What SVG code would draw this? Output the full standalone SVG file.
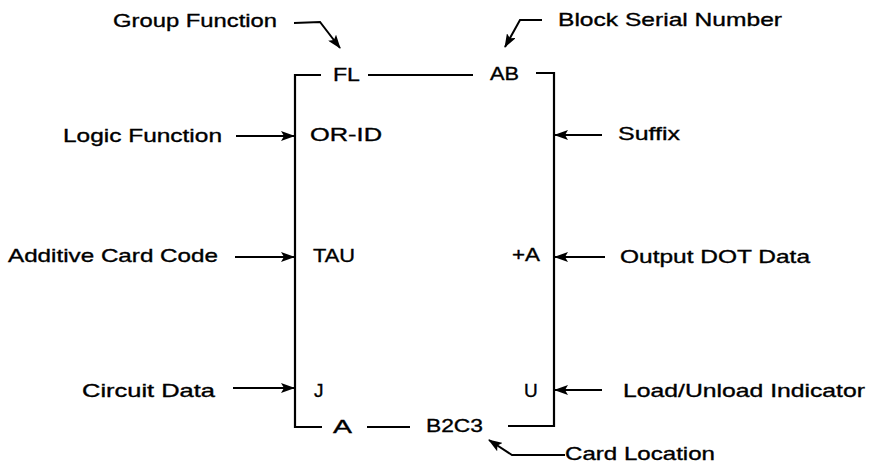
<svg xmlns="http://www.w3.org/2000/svg" width="871" height="469" viewBox="0 0 871 469">
<defs>
<marker id="ah" viewBox="0 0 14 10" refX="13" refY="5" markerWidth="14" markerHeight="10" markerUnits="userSpaceOnUse" orient="auto">
<path d="M0,0 L14,5 L0,10 L3,5 Z" fill="#000"/>
</marker>
<style>
text{font-family:"Liberation Sans",Arial,sans-serif;font-size:19px;fill:#000;stroke:#000;stroke-width:0.35;}
.ln{fill:none;stroke:#000;stroke-width:2.2;}
.ar{fill:none;stroke:#000;stroke-width:2;marker-end:url(#ah);}
</style>
</defs>
<rect width="871" height="469" fill="#fff"/>
<g id="block">
<path class="ln" d="M321,75 L295,75 L295,427 L322,427"/>
<path class="ln" d="M368,75 L473,75"/>
<path class="ln" d="M536,73 L554,73 L554,426 L508,426"/>
<path class="ln" d="M367,427 L410,427"/>
<text x="333" y="81" textLength="27" lengthAdjust="spacingAndGlyphs">FL</text>
<text x="490" y="80" textLength="29" lengthAdjust="spacingAndGlyphs">AB</text>
<text x="310" y="141" textLength="72" lengthAdjust="spacingAndGlyphs">OR-ID</text>
<text x="313" y="262" textLength="42" lengthAdjust="spacingAndGlyphs">TAU</text>
<text x="512" y="261" textLength="28" lengthAdjust="spacingAndGlyphs">+A</text>
<text x="314" y="397">J</text>
<text x="524" y="397">U</text>
<text x="333" y="433" textLength="19" lengthAdjust="spacingAndGlyphs">A</text>
<text x="426" y="432" textLength="57" lengthAdjust="spacingAndGlyphs">B2C3</text>
</g>
<g id="group-function"><text x="113" y="27" textLength="164" lengthAdjust="spacingAndGlyphs">Group Function</text></g>
<g id="block-serial-number"><text x="558" y="26" textLength="224" lengthAdjust="spacingAndGlyphs">Block Serial Number</text></g>
<g id="logic-function"><text x="63" y="142" textLength="159" lengthAdjust="spacingAndGlyphs">Logic Function</text></g>
<g id="suffix"><text x="618" y="140" textLength="62" lengthAdjust="spacingAndGlyphs">Suffix</text></g>
<g id="additive-card-code"><text x="8" y="262" textLength="210" lengthAdjust="spacingAndGlyphs">Additive Card Code</text></g>
<g id="output-dot-data"><text x="620" y="263" textLength="190" lengthAdjust="spacingAndGlyphs">Output DOT Data</text></g>
<g id="circuit-data"><text x="82" y="397" textLength="133" lengthAdjust="spacingAndGlyphs">Circuit Data</text></g>
<g id="load-unload-indicator"><text x="623" y="397" textLength="242" lengthAdjust="spacingAndGlyphs">Load/Unload Indicator</text></g>
<g id="card-location"><text x="565" y="460" textLength="150" lengthAdjust="spacingAndGlyphs">Card Location</text></g>
<g id="connectors">
<path class="ar" d="M294,23 L320,22 L340,48"/>
<path class="ar" d="M542,20 L520,20 L505,47"/>
<path class="ar" d="M236,136 L294,136"/>
<path class="ar" d="M602,135 L555,135"/>
<path class="ar" d="M235,257 L294,257"/>
<path class="ar" d="M605,257 L555,257"/>
<path class="ar" d="M233,388 L294,388"/>
<path class="ar" d="M602,390 L555,390"/>
<path class="ar" d="M565,455 L512,455 L489,440"/>
</g>
</svg>
